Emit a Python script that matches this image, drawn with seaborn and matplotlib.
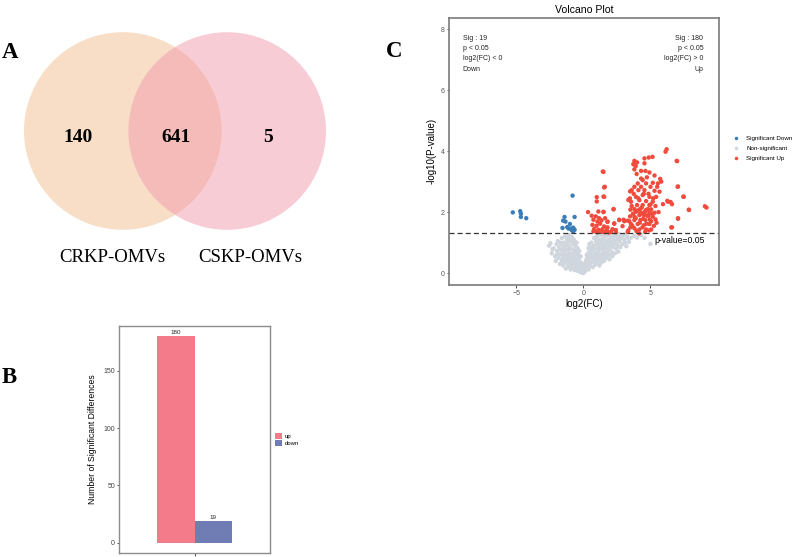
import matplotlib
matplotlib.use("Agg")
import matplotlib.pyplot as plt
from matplotlib.patches import Circle
import pandas as pd
import seaborn as sns

# ---- Venn counts (A) ----
venn_sets = ["CRKP-OMVs", "CSKP-OMVs"]
venn_counts = [140, 641, 5]  # only left, shared, only right

# ---- bar (B) ----
bar_types = ["up", "down"]
bar_counts = [180, 19]

# ---- volcano (C) ----
down_x = [-5.25, -4.7, -4.65, -4.65, -4.25, -0.8, -1.4, -0.65, -1.5, -1.33,
          -1.0, -1.55, -1.2, -0.95, -0.75, -0.65, -0.85, -1.1, -0.75]
down_y = [1.99, 2.03, 1.95, 1.84, 1.80, 2.54, 1.84, 1.84, 1.72, 1.69,
          1.61, 1.48, 1.51, 1.46, 1.49, 1.42, 1.40, 1.46, 1.37]

up_x = [6.2, 6.12, 5.15, 4.87, 4.55, 6.98, 3.8, 4.0, 3.72, 3.9, 4.55, 3.8, 4.3, 4.62,
        1.5, 4.92, 3.97, 5.3, 4.73, 5.72, 4.42, 5.8, 4.05, 4.67, 5.17, 5.55, 1.6, 3.8,
        4.3, 5.0, 5.5, 7.02, 3.6, 4.1, 4.55, 5.3, 5.67, 1.55, 3.47, 3.92, 4.42, 4.92,
        5.42, 3.55, 4.17, 4.67, 5.17, 6.3, 7.47, 5.93, 6.6, 4.0, 4.42, 4.92, 5.37, 3.8,
        4.22, 4.67, 5.05, 7.87, 9.17, 2.25, 1.5, 3.92, 4.3, 4.6, 4.92, 5.3, 4.17, 4.5,
        4.85, 5.17, 3.8, 7.05, 2.67, 3.05, 3.42, 3.8, 4.25, 4.62, 5.05, 5.37, 3.55, 4.05,
        4.5, 4.92, 1.8, 2.3, 2.92, 3.8, 4.17, 4.67, 5.05, 6.55, 2.42, 3.3, 1.42, 2.05,
        1.8,
        1.45, 1.55, 1.0, 1.5, 1.0, 2.25, 0.35, 1.12, 1.5, 0.62, 0.92, 1.18, 1.62, 0.75,
        1.05, 1.35, 1.8, 2.67, 3.0, 2.3, 0.68, 0.98, 1.25, 1.55, 0.8, 1.12, 1.42, 1.75,
        2.17, 0.75, 1.0, 1.3, 1.6, 1.92, 2.42, 3.35, 3.3, 3.48, 3.5, 3.35, 3.48,
        9.05, 7.85, 7.45, 7.05, 6.95, 7.05, 6.6, 6.5, 6.25,
        3.7, 3.9, 4.05, 4.2, 4.35, 4.45, 4.55, 4.7, 4.8, 4.95, 5.1, 5.25, 4.4, 4.6, 3.95,
        4.25, 4.75, 5.0, 3.6, 4.1, 4.5, 4.85, 5.2, 3.75, 4.3, 5.45, 5.6, 3.5, 4.15, 4.9,
        3.65]
up_y = [4.06, 3.98, 3.81, 3.79, 3.76, 3.67, 3.68, 3.63, 3.57, 3.51, 3.6, 3.4, 3.35, 3.35,
        3.32, 3.3, 3.25, 3.2, 3.14, 3.09, 3.05, 3.0, 2.94, 2.94, 2.96, 2.94, 2.83, 2.83,
        2.83, 2.83, 2.83, 2.83, 2.72, 2.72, 2.72, 2.7, 2.67, 2.5, 2.45, 2.5, 2.56, 2.5,
        2.5, 2.34, 2.39, 2.36, 2.34, 2.34, 2.5, 2.26, 2.26, 2.23, 2.23, 2.23, 2.2, 2.1,
        2.1, 2.07, 2.09, 2.07, 2.15, 2.09, 2.01, 2.01, 1.98, 2.01, 1.98, 1.98, 1.9, 1.9,
        1.87, 1.85, 1.85, 1.78, 1.74, 1.7, 1.7, 1.74, 1.74, 1.74, 1.7, 1.76, 1.61, 1.61,
        1.57, 1.61, 1.68, 1.63, 1.54, 1.47, 1.43, 1.43, 1.43, 1.5, 1.41, 1.35, 1.35, 1.35,
        1.5,
        3.33, 2.81, 2.49, 2.51, 2.35, 2.10, 2.0, 2.02, 2.0, 1.88, 1.86, 1.80, 1.80, 1.75,
        1.69, 1.73, 1.69, 1.75, 1.75, 1.62, 1.58, 1.55, 1.62, 1.53, 1.44, 1.42, 1.44, 1.42,
        1.44, 1.37, 1.34, 1.37, 1.34, 1.33, 1.34, 1.40, 1.72, 1.86, 2.08, 2.4, 2.68,
        2.19, 2.08, 2.51, 2.84, 3.68, 1.80, 1.5, 2.33, 2.37,
        1.95, 1.8, 2.05, 1.65, 2.15, 1.78, 2.0, 1.62, 2.1, 1.75, 1.95, 1.55, 1.5, 1.35, 1.38,
        1.95, 1.88, 2.25, 2.2, 2.45, 2.6, 2.6, 2.45, 2.6, 3.1, 1.65, 2.0, 1.5, 1.3, 1.4,
        1.55]

ns_x = [-2.55, -2.2, -2.35, -2.1, -2.0, -1.95, -2.05, -1.85, -1.9, -1.8,
        -1.75, -1.7, -1.65, -1.6, -1.6, -1.55, -1.5, -1.5, -1.45, -1.45, -1.4, -1.4, -1.35,
        -1.35, -1.3, -1.3, -1.25, -1.25, -1.2, -1.2,
        -1.15, -1.15, -1.1, -1.1, -1.05, -1.05, -1.0, -1.0, -0.95, -0.95, -0.9, -0.9, -0.85,
        -0.85, -0.8, -0.8, -0.75, -0.75, -0.7, -0.7, -0.65, -0.65, -0.6, -0.6,
        -0.55, -0.55, -0.5, -0.5, -0.45, -0.45, -0.4, -0.4, -0.35, -0.35, -0.3, -0.3, -0.25,
        -0.2, -0.2, -0.15, -0.1, -0.05, 0.0, 0.05, 0.1, 0.1,
        0.15, 0.2, 0.2, 0.25, 0.3, 0.3, 0.35, 0.4, 0.4, 0.45, 0.5, 0.5, 0.55, 0.6, 0.6, 0.65,
        0.7, 0.7, 0.75, 0.8, 0.8,
        0.85, 0.9, 0.9, 0.95, 1.0, 1.0, 1.05, 1.05, 1.1, 1.15, 1.15, 1.2, 1.2, 1.25, 1.25,
        1.3, 1.3, 1.35, 1.35, 1.4, 1.45, 1.45, 1.5, 1.5, 1.55, 1.6, 1.6,
        1.65, 1.7, 1.7, 1.75, 1.8, 1.8, 1.85, 1.9, 1.95, 1.95, 2.0, 2.05, 2.1, 2.1, 2.15,
        2.2, 2.25, 2.3, 2.35, 2.4,
        2.45, 2.5, 2.55, 2.6, 2.7, 2.75, 2.85, 2.9, 3.0, 3.1, 3.2, 3.3, 3.55, 4.0, 4.55,
        5.0, 3.8, 2.65, 4.3,
        -1.0, -0.6, -1.3, 0.7, 1.0, 1.4, 1.6, -0.2, 0.25, -0.9, 2.0, 1.2, -1.7, -0.5, 0.45,
        1.85, -1.15, 2.3, 0.9, -0.3,
        -2.3, -1.95, -1.6, -1.4, -1.2, -0.98, -0.72, -0.52, -0.32, -0.12, 0.08, 0.28, 0.48,
        0.62, 0.82, 1.08, 1.28, 1.52, 1.72, 1.98, 2.18, 2.45, 2.8, 3.05, 3.4, -2.45, -1.72,
        -1.08, -0.42, 0.38, 0.58, 1.38, 1.92, 2.62, 3.25, -0.02, 0.18, -0.62, 0.95, 1.75]
ns_y = [0.9, 0.81, 0.65, 0.55, 0.95, 0.72, 0.4, 0.5, 1.05, 0.85,
        0.3, 0.62, 0.95, 0.45, 1.15, 0.75, 0.25, 0.55, 1.0, 0.85, 0.35, 0.65, 1.2,
        0.5, 0.8, 0.15, 0.95, 0.4, 0.6, 1.1,
        0.28, 0.75, 0.5, 0.9, 1.25, 0.2, 0.65, 0.38, 1.05, 0.12, 0.8, 0.48, 0.3,
        1.18, 0.62, 0.95, 0.2, 0.42, 0.75, 1.1, 0.1, 0.55, 0.32, 0.88,
        0.18, 0.68, 0.45, 1.0, 0.08, 0.28, 0.58, 0.8, 0.15, 0.38, 0.05, 0.5, 0.25,
        0.12, 0.35, 0.02, 0.2, 0.08, 0.0, 0.15, 0.05, 0.3,
        0.22, 0.1, 0.42, 0.3, 0.18, 0.55, 0.38, 0.12, 0.68, 0.48, 0.25, 0.85, 0.6, 0.35, 1.0,
        0.72, 0.2, 0.5, 0.9, 0.4, 1.15,
        0.65, 0.28, 0.8, 1.05, 0.5, 0.95, 0.35, 1.22, 0.7, 0.55, 0.88, 0.25, 1.1, 0.45, 0.78,
        0.62, 1.0, 0.35, 1.25, 0.85, 0.52, 1.12, 0.7, 0.95, 0.4, 1.2, 0.6,
        0.82, 1.05, 0.5, 0.68, 0.92, 1.25, 0.6, 0.78, 1.1, 0.45, 0.88, 1.2, 0.7, 1.0, 0.55,
        0.85, 1.15, 0.95, 0.65, 1.05,
        0.8, 1.2, 0.92, 0.7, 1.05, 0.85, 1.15, 0.95, 1.25, 1.0, 0.88, 1.15, 1.16, 1.16, 1.15,
        0.96, 1.22, 1.28, 1.25,
        0.82, 0.7, 0.58, 0.82, 0.62, 0.4, 0.95, 0.55, 0.6, 0.25, 0.6, 0.98, 0.78, 0.85, 0.95,
        1.1, 1.02, 1.25, 1.15, 0.72,
        0.78, 0.6, 0.38, 0.72, 0.48, 0.52, 0.32, 0.3, 0.22, 0.28, 0.22, 0.48, 0.38,
        0.48, 0.55, 0.82, 0.48, 0.82, 0.95, 1.05, 1.12, 1.05, 1.2, 1.1, 1.02, 0.98, 1.0,
        1.15, 0.65, 0.82, 0.75, 1.08, 1.0, 1.12, 1.22, 0.12, 0.35, 1.02, 0.42, 0.55]

W, H = 798, 557
plt.rcParams["font.family"] = ["Liberation Sans", "DejaVu Sans"]
fig = plt.figure(figsize=(W / 100, H / 100), dpi=100)

def px_axes(left, top, right, bottom):
    return fig.add_axes([left / W, 1 - bottom / H, (right - left) / W, (bottom - top) / H])

serif = ["Liberation Serif", "DejaVu Serif"]

# ---------------- A: Venn ----------------
axv = px_axes(0, 0, 400, 310)
axv.set_xlim(0, 400)
axv.set_ylim(310, 0)
axv.axis("off")
axv.add_patch(Circle((122.8, 131), 98.8, color="#F3BD91", alpha=0.5, lw=0))
axv.add_patch(Circle((227.2, 131), 98.8, color="#F19BAD", alpha=0.5, lw=0))
for xx, c in zip([78, 176, 268], venn_counts):
    axv.text(xx, 137, str(c), ha="center", va="center", fontsize=14,
             fontweight="bold", family=serif)
for xx, name in zip([112.5, 250.5], venn_sets):
    axv.text(xx, 258, name, ha="center", va="center", fontsize=13.5, family=serif)

for letter, x, y in [("A", 2, 58), ("B", 2, 383), ("C", 386, 57)]:
    fig.text(x / W, 1 - y / H, letter, fontsize=16.5, fontweight="bold",
             family=serif, ha="left", va="baseline")

# ---------------- B: bar ----------------
axb = px_axes(119, 326, 270, 553)
bar_df = pd.DataFrame({"cmp": ["CRKP vs CSKP"] * 2, "type": bar_types, "n": bar_counts})
sns.barplot(data=bar_df, x="cmp", y="n", hue="type", hue_order=bar_types,
            palette={"up": "#F47C8A", "down": "#6F7DB4"}, width=0.5,
            saturation=1, ax=axb)
for cont in axb.containers:
    axb.bar_label(cont, fontsize=4.5, padding=0.8, color="#222222")
axb.set_ylim(-9, 189)
axb.set_xlim(-0.5, 0.5)
axb.set_yticks([0, 50, 100, 150])
axb.set_xticks([0])
axb.set_xticklabels([""])
axb.set_xlabel("")
axb.set_ylabel("Number of Significant Differences", fontsize=6.2, labelpad=5)
axb.tick_params(labelsize=5, length=1.8, width=0.6, color="#333333",
                labelcolor="#444444", pad=1)
for sp in axb.spines.values():
    sp.set_color("#8C8C8C")
    sp.set_linewidth(1.0)
sns.move_legend(axb, "center left", bbox_to_anchor=(1.0, 0.5), frameon=False,
                title=None, fontsize=4.3, handlelength=1.1, handleheight=1.1,
                handletextpad=0.4, labelspacing=0.15)

# ---------------- C: volcano ----------------
axc = px_axes(449, 17.5, 719, 285)
vdf = pd.DataFrame({
    "log2FC": down_x + ns_x + up_x,
    "logp": down_y + ns_y + up_y,
    "group": ["Significant Down"] * len(down_x) + ["Non-significant"] * len(ns_x)
             + ["Significant Up"] * len(up_x),
})
order = ["Significant Down", "Non-significant", "Significant Up"]
pal = {"Significant Down": "#3B7DB8", "Non-significant": "#CFD6DE",
       "Significant Up": "#F04B3C"}
sns.scatterplot(data=vdf, x="log2FC", y="logp", hue="group", hue_order=order,
                palette=pal, s=10, linewidth=0, ax=axc)
axc.axhline(1.30103, color="#333333", ls=(0, (4, 2.5)), lw=0.9)
axc.text(5.27, 1.08, "p-value=0.05", fontsize=6.2, va="center", ha="left")
axc.set_xlim(-10, 10.1)
axc.set_ylim(-0.39, 8.38)
axc.set_xticks([-5, 0, 5])
axc.set_yticks([0, 2, 4, 6, 8])
axc.set_title("Volcano Plot", fontsize=7.6, pad=3)
axc.set_xlabel("log2(FC)", fontsize=7, labelpad=2)
axc.set_ylabel("-log10(P-value)", fontsize=7, labelpad=3)
axc.tick_params(labelsize=5, length=1.8, width=0.6, color="#333333",
                labelcolor="#555555", pad=1.5)
for sp in axc.spines.values():
    sp.set_color("#7A7A7A")
    sp.set_linewidth(1.2)

left_txt = ["Sig : %d" % bar_counts[1], "p < 0.05", "log2(FC) < 0", "Down"]
right_txt = ["Sig : %d" % bar_counts[0], "p < 0.05", "log2(FC) > 0", "Up"]
for yy, lt, rt in zip([7.70, 7.37, 7.03, 6.69], left_txt, right_txt):
    axc.text(-8.98, yy, lt, fontsize=5, ha="left", va="center", color="#222222")
    axc.text(8.93, yy, rt, fontsize=5, ha="right", va="center", color="#222222")

sns.move_legend(axc, "center left", bbox_to_anchor=(1.02, 0.51), frameon=False,
                title=None, fontsize=4.5, markerscale=0.8, handletextpad=0.6,
                labelspacing=0.75)

fig.savefig("out.png", dpi=100)
